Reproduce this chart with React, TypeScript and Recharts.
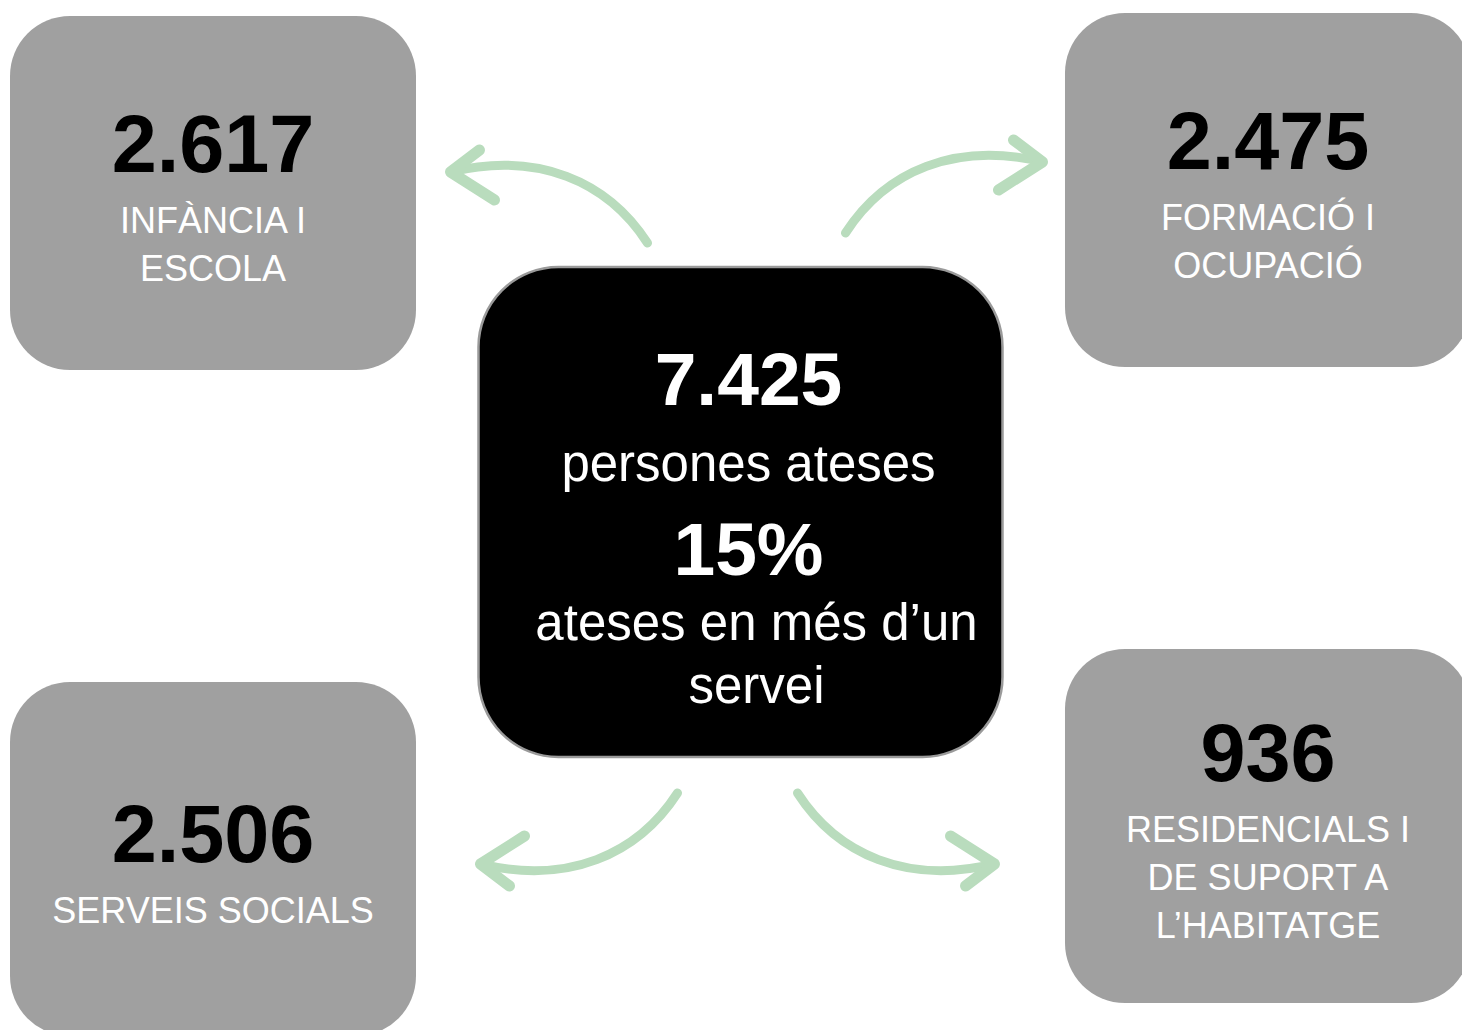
import React from 'react';
import { ScatterChart, Scatter, XAxis, YAxis } from 'recharts';

// serveis
const serviceValues = [2617, 2475, 2506, 936];
const serviceLabels = [
  ['INFÀNCIA I', 'ESCOLA'],
  ['FORMACIÓ I', 'OCUPACIÓ'],
  ['SERVEIS SOCIALS'],
  ['RESIDENCIALS I', 'DE SUPORT A', 'L’HABITATGE'],
];
const serviceSlots = ['top-left', 'top-right', 'bottom-left', 'bottom-right'];

// total
const totalPeople = 7425;
const totalLabel = 'persones ateses';
const multiServicePct = 15;
const multiServiceLabel = ['ateses en més d’un', 'servei'];

const FONT = '"Liberation Sans", Arial, sans-serif';
const GREY = '#a0a0a0';
const GREEN = '#b9dcbd';

const colOf: Record<string, number> = { left: 0, center: 1, right: 2 };
const rowOf: Record<string, number> = { top: 0, middle: 1, bottom: 2 };

const fmt = (n: number) => String(n).replace(/\B(?=(\d{3})+(?!\d))/g, '.');

const serviceData = serviceValues.map((value, i) => {
  const [r, c] = serviceSlots[i].split('-');
  return { side: c, col: colOf[c], row: rowOf[r], value, lines: serviceLabels[i] };
});
const leftData = serviceData.filter((d) => d.side === 'left');
const rightData = serviceData.filter((d) => d.side === 'right');

const totalData = [{ col: colOf.center, row: rowOf.middle, value: totalPeople, pct: multiServicePct }];

// arrow tails relative to the centre box, and mirroring
const arrows = [
  { dx: 105, dy: -279, sx: 1, sy: 1 },
  { dx: -93, dy: -269, sx: -1, sy: 1 },
  { dx: 57, dy: 281, sx: 1, sy: -1 },
  { dx: -63, dy: 281, sx: -1, sy: -1 },
];

const ServiceBox = (props: any) => {
  const { cx, cy, payload } = props;
  const lines: string[] = payload.lines;
  const shift = (2 - lines.length) * 24;
  return (
    <g>
      <rect x={cx - 203} y={cy - 177} width={406} height={354} rx={60} ry={60} fill={GREY} />
      <text x={cx} y={cy - 21 + shift} textAnchor="middle" fontFamily={FONT} fontSize={81} fontWeight={700} fill="#000">
        {fmt(payload.value)}
      </text>
      {lines.map((l, i) => (
        <text key={i} x={cx} y={cy + 40 + shift + i * 48} textAnchor="middle" fontFamily={FONT} fontSize={36} fill="#fff">
          {l}
        </text>
      ))}
    </g>
  );
};

const TotalBox = (props: any) => {
  const { cx, cy, payload } = props;
  return (
    <g>
      {arrows.map((a, i) => (
        <g key={i} transform={`translate(${cx + a.dx},${cy + a.dy}) scale(${a.sx},${a.sy})`} fill="none" stroke={GREEN} strokeLinecap="round" strokeLinejoin="round">
          <path d="M0,0 C40,-62 110,-92 197,-71" strokeWidth={9} />
          <path d="M168,-93 L197,-71 L153,-43" strokeWidth={11} />
        </g>
      ))}
      <rect x={cx - 262} y={cy - 245} width={524} height={490} rx={80} ry={80} fill="#000" stroke="#9a9a9a" strokeWidth={2.5} />
      <text x={cx + 8} y={cy - 107} textAnchor="middle" fontFamily={FONT} fontSize={75} fontWeight={700} fill="#fff">
        {fmt(payload.value)}
      </text>
      <text x={cx + 8} y={cy - 31} textAnchor="middle" fontFamily={FONT} fontSize={51} fill="#fff">
        {totalLabel}
      </text>
      <text x={cx + 8} y={cy + 63} textAnchor="middle" fontFamily={FONT} fontSize={75} fontWeight={700} fill="#fff">
        {`${payload.pct}%`}
      </text>
      {multiServiceLabel.map((l, i) => (
        <text key={i} x={cx + 16} y={cy + 128 + i * 63} textAnchor="middle" fontFamily={FONT} fontSize={51} fill="#fff">
          {l}
        </text>
      ))}
    </g>
  );
};

export default function App() {
  return (
    <div style={{ position: 'absolute', left: 0, top: 0, width: 1462, height: 1030, background: '#fff' }}>
      <ScatterChart width={1462} height={1030} margin={{ top: 0, right: 0, bottom: 0, left: 0 }}>
        <XAxis type="number" dataKey="col" hide domain={[-0.4038, 2.3678]} allowDataOverflow />
        <YAxis yAxisId="mid" type="number" dataKey="row" hide reversed domain={[-0.595, 2.6137]} allowDataOverflow />
        <YAxis yAxisId="left" type="number" dataKey="row" hide reversed domain={[-0.5796, 2.5135]} allowDataOverflow />
        <YAxis yAxisId="right" type="number" dataKey="row" hide reversed domain={[-0.5975, 2.6415]} allowDataOverflow />
        <Scatter yAxisId="left" data={leftData} shape={ServiceBox} isAnimationActive={false} />
        <Scatter yAxisId="right" data={rightData} shape={ServiceBox} isAnimationActive={false} />
        <Scatter yAxisId="mid" data={totalData} shape={TotalBox} isAnimationActive={false} />
      </ScatterChart>
    </div>
  );
}
